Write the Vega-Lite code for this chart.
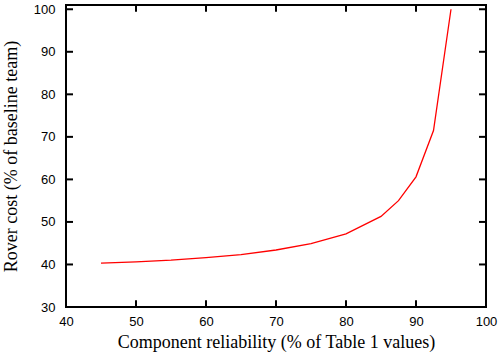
{
  "$schema": "https://vega.github.io/schema/vega-lite/v6.json",
  "autosize": "none",
  "width": 420,
  "height": 302,
  "padding": {"left": 66, "top": 5, "right": 13, "bottom": 50},
  "background": "white",
  "config": {
    "view": {"stroke": "black", "strokeWidth": 2},
    "axis": {
      "grid": false,
      "domain": false,
      "ticks": false,
      "labelFlush": false,
      "labelOverlap": false,
      "labelFont": "Liberation Sans",
      "labelFontSize": 13,
      "labelColor": "black",
      "titleFont": "Liberation Serif",
      "titleFontSize": 18,
      "titleFontWeight": "normal",
      "titleColor": "black"
    }
  },
  "datasets": {
    "curve": [
      {"r": 45, "c": 40.3},
      {"r": 50, "c": 40.6},
      {"r": 55, "c": 41.0},
      {"r": 60, "c": 41.6},
      {"r": 65, "c": 42.3},
      {"r": 70, "c": 43.4},
      {"r": 75, "c": 44.9},
      {"r": 80, "c": 47.2},
      {"r": 85, "c": 51.3},
      {"r": 87.5, "c": 55.0},
      {"r": 90, "c": 60.6},
      {"r": 92.5, "c": 71.5},
      {"r": 95, "c": 100}
    ],
    "xticks": [{"v": 50}, {"v": 60}, {"v": 70}, {"v": 80}, {"v": 90}],
    "yticks": [{"v": 40}, {"v": 50}, {"v": 60}, {"v": 70}, {"v": 80}, {"v": 90}, {"v": 100}]
  },
  "layer": [
    {
      "data": {"name": "curve"},
      "mark": {"type": "line", "color": "#ff0000", "strokeWidth": 1.3},
      "encoding": {
        "x": {
          "field": "r", "type": "quantitative",
          "scale": {"domain": [40, 100], "nice": false, "zero": false},
          "axis": {"orient": "bottom", "values": [40, 50, 60, 70, 80, 90, 100], "labelPadding": 8, "title": "Component reliability (% of Table 1 values)", "titlePadding": 5}
        },
        "y": {
          "field": "c", "type": "quantitative",
          "scale": {"domain": [30, 101], "nice": false, "zero": false},
          "axis": {"orient": "left", "values": [30, 40, 50, 60, 70, 80, 90, 100], "labelPadding": 11, "title": "Rover cost (% of baseline team)", "titlePadding": 13}
        }
      }
    },
    {
      "data": {"name": "xticks"},
      "mark": {"type": "rule", "color": "black", "strokeWidth": 2},
      "encoding": {
        "x": {"field": "v", "type": "quantitative"},
        "y": {"datum": 30},
        "y2": {"datum": 31.6}
      }
    },
    {
      "data": {"name": "xticks"},
      "mark": {"type": "rule", "color": "black", "strokeWidth": 2},
      "encoding": {
        "x": {"field": "v", "type": "quantitative"},
        "y": {"datum": 101},
        "y2": {"datum": 99.4}
      }
    },
    {
      "data": {"name": "yticks"},
      "mark": {"type": "rule", "color": "black", "strokeWidth": 2},
      "encoding": {
        "y": {"field": "v", "type": "quantitative"},
        "x": {"datum": 40},
        "x2": {"datum": 41}
      }
    },
    {
      "data": {"name": "yticks"},
      "mark": {"type": "rule", "color": "black", "strokeWidth": 2},
      "encoding": {
        "y": {"field": "v", "type": "quantitative"},
        "x": {"datum": 100},
        "x2": {"datum": 99}
      }
    }
  ]
}
